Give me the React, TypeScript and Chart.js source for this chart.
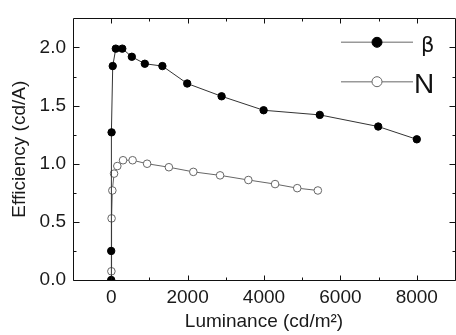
import { useEffect, useRef } from "react";
import { Chart, registerables } from "chart.js";

Chart.register(...registerables);

// ---- data ----
const betaX = [0, 0, 10, 40, 120, 290, 540, 880, 1340, 1990, 2890, 3990, 5460, 6990, 8000];
const betaY = [0.0, 0.25, 1.27, 1.84, 1.99, 1.99, 1.92, 1.86, 1.84, 1.69, 1.58, 1.46, 1.42, 1.32, 1.21];
const nX = [5, 10, 30, 75, 160, 310, 560, 940, 1510, 2150, 2850, 3590, 4290, 4870, 5410];
const nY = [0.075, 0.53, 0.77, 0.915, 0.98, 1.03, 1.03, 1.0, 0.97, 0.93, 0.9, 0.86, 0.825, 0.79, 0.77];
const seriesLabels = ["β", "N"];
const xTicks = [0, 2000, 4000, 6000, 8000];
const xMinorTicks = [1000, 3000, 5000, 7000];
const yTicks = [0, 0.5, 1.0, 1.5, 2.0];
const yMinorTicks = [0.25, 0.75, 1.25, 1.75];
const xTitle = "Luminance (cd/m²)";
const yTitle = "Efficiency (cd/A)";

const FONT = "'Liberation Sans', Arial, sans-serif";

const framePlugin = {
  id: "frame",
  afterDatasetsDraw(chart: any) {
    const { ctx, chartArea, scales } = chart;
    const { left, right, top, bottom } = chartArea;
    const xs = scales.x;
    const ys = scales.y;
    const c = (v: number) => Math.round(v) + 0.5;
    ctx.save();
    ctx.strokeStyle = "#111";
    ctx.lineWidth = 1;
    ctx.beginPath();
    ctx.rect(c(left), c(top), Math.round(right) - Math.round(left), Math.round(bottom) - Math.round(top));
    ctx.stroke();
    ctx.beginPath();
    const xt = (vals: number[], len: number) => {
      vals.forEach((v) => {
        const px = c(xs.getPixelForValue(v));
        ctx.moveTo(px, c(bottom));
        ctx.lineTo(px, c(bottom) - len);
        ctx.moveTo(px, c(top));
        ctx.lineTo(px, c(top) + len);
      });
    };
    const yt = (vals: number[], len: number) => {
      vals.forEach((v) => {
        const py = c(ys.getPixelForValue(v));
        ctx.moveTo(c(left), py);
        ctx.lineTo(c(left) + len, py);
        ctx.moveTo(c(right), py);
        ctx.lineTo(c(right) - len, py);
      });
    };
    xt(xTicks, 5);
    xt(xMinorTicks, 3);
    yt(yTicks, 6);
    yt(yMinorTicks, 3);
    ctx.stroke();

    // legend (line with marker in the middle)
    const rows = [42.3, 81.7];
    const x1 = 341;
    const x2 = 413;
    const mx = 377;
    chart.data.datasets.forEach((ds: any, i: number) => {
      const y = rows[i];
      ctx.beginPath();
      ctx.strokeStyle = "#999";
      ctx.lineWidth = 1.5;
      ctx.moveTo(x1, y);
      ctx.lineTo(x2, y);
      ctx.stroke();
      ctx.beginPath();
      ctx.arc(mx, y, 5, 0, Math.PI * 2);
      ctx.fillStyle = ds.pointBackgroundColor;
      ctx.fill();
      ctx.lineWidth = 1;
      ctx.strokeStyle = ds.pointBorderColor;
      ctx.stroke();
      ctx.fillStyle = "#111";
      ctx.textBaseline = "alphabetic";
      ctx.textAlign = "left";
      if (i === 0) {
        ctx.font = `21px 'DejaVu Sans', ${FONT}`;
        ctx.fillText(seriesLabels[i], 421, y + 10);
      } else {
        ctx.font = `28px ${FONT}`;
        ctx.fillText(seriesLabels[i], 414, y + 11);
      }
    });
    ctx.restore();
  },
};

export default function App() {
  const ref = useRef<HTMLCanvasElement>(null);
  useEffect(() => {
    if (!ref.current) return;
    const chart = new Chart(ref.current, {
      type: "line",
      data: {
        datasets: [
          {
            label: seriesLabels[0],
            data: betaX.map((x, i) => ({ x, y: betaY[i] })),
            borderColor: "#333",
            borderWidth: 1,
            pointRadius: 3.7,
            pointBackgroundColor: "#000",
            pointBorderColor: "#000",
            pointBorderWidth: 1,
            tension: 0,
            clip: 0,
          } as any,
          {
            label: seriesLabels[1],
            data: nX.map((x, i) => ({ x, y: nY[i] })),
            borderColor: "#666",
            borderWidth: 1,
            pointRadius: 3.8,
            pointBackgroundColor: "#fff",
            pointBorderColor: "#666",
            pointBorderWidth: 1,
            tension: 0,
            clip: 0,
          } as any,
        ],
      },
      options: {
        responsive: false,
        animation: false,
        devicePixelRatio: 1,
        layout: { padding: { left: 0, right: 1, top: 11, bottom: 0 } },
        plugins: { legend: { display: false }, tooltip: { enabled: false } },
        scales: {
          x: {
            type: "linear",
            min: -1000,
            max: 9000,
            afterBuildTicks: (s: any) => {
              s.ticks = xTicks.map((v) => ({ value: v }));
            },
            afterFit: (s: any) => {
              s.height = 55;
            },
            grid: { display: false, drawTicks: false },
            border: { display: false },
            ticks: {
              padding: 6,
              color: "#1a1a1a",
              font: { family: FONT, size: 19 },
              maxRotation: 0,
              callback: (v: any) => String(v),
            },
            title: {
              display: true,
              text: xTitle,
              color: "#1a1a1a",
              font: { family: FONT, size: 19 },
              padding: { top: 0, bottom: 2 },
            },
          },
          y: {
            type: "linear",
            min: 0,
            max: 2.25,
            afterBuildTicks: (s: any) => {
              s.ticks = yTicks.map((v) => ({ value: v }));
            },
            afterFit: (s: any) => {
              s.width = 73;
            },
            grid: { display: false, drawTicks: false },
            border: { display: false },
            ticks: {
              padding: 7,
              color: "#1a1a1a",
              font: { family: FONT, size: 19 },
              callback: (v: any) => Number(v).toFixed(1),
            },
            title: {
              display: true,
              text: yTitle,
              color: "#1a1a1a",
              font: { family: FONT, size: 19 },
              padding: { top: 8, bottom: 0 },
            },
          },
        },
      },
      plugins: [framePlugin],
    });
    return () => chart.destroy();
  }, []);
  return (
    <div
      style={{
        position: "fixed",
        left: 0,
        top: 0,
        width: 456,
        height: 335,
        overflow: "hidden",
        background: "#fff",
      }}
    >
      <canvas ref={ref} width={460} height={335} style={{ display: "block" }} />
    </div>
  );
}
